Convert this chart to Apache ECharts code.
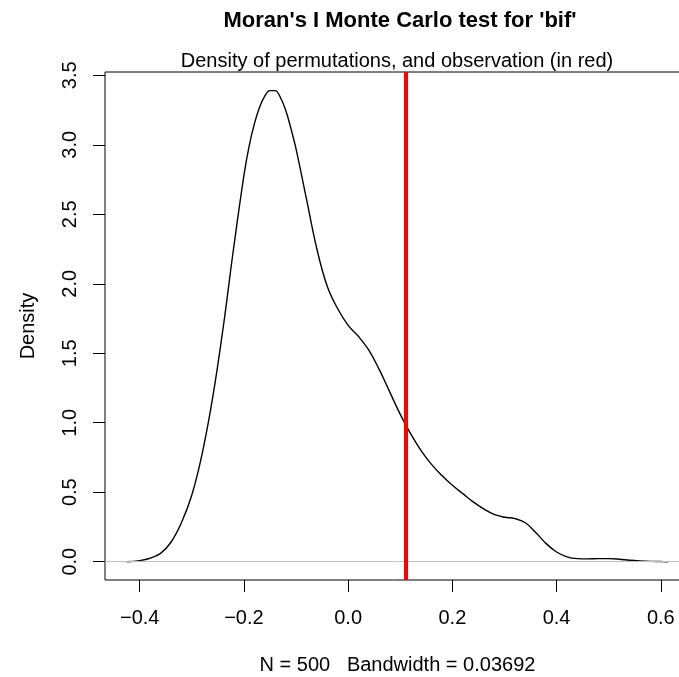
<!DOCTYPE html>
<html>
<head>
<meta charset="utf-8">
<script src="https://cdn.jsdelivr.net/npm/echarts@6/dist/echarts.min.js"></script>
<style>
html,body{margin:0;padding:0;background:#fff;overflow:hidden;}
#chart{width:679px;height:677px;}
</style>
</head>
<body>
<div id="chart"></div>
<script>
// Density of Monte Carlo permutations (x = Moran's I, y = density)
const densityX = [-0.425,-0.40,-0.38,-0.36,-0.34,-0.32,-0.30,-0.28,-0.26,-0.24,-0.22,-0.20,-0.19,-0.18,-0.17,-0.16,-0.15,-0.14,-0.13,-0.12,-0.11,-0.10,-0.08,-0.06,-0.04,-0.02,0.00,0.02,0.04,0.06,0.08,0.10,0.12,0.14,0.16,0.18,0.20,0.22,0.24,0.26,0.28,0.30,0.32,0.34,0.36,0.38,0.40,0.42,0.44,0.46,0.48,0.50,0.52,0.54,0.56,0.58,0.60,0.614];
const densityY = [0.0,0.008,0.025,0.06,0.14,0.28,0.48,0.78,1.18,1.68,2.25,2.78,2.99,3.15,3.27,3.35,3.39,3.39,3.34,3.25,3.12,2.97,2.61,2.25,1.98,1.82,1.70,1.62,1.52,1.38,1.22,1.06,0.92,0.80,0.70,0.62,0.55,0.49,0.43,0.38,0.34,0.32,0.31,0.28,0.21,0.13,0.07,0.035,0.022,0.02,0.022,0.022,0.018,0.01,0.005,0.002,0.001,0.0];
const observed = 0.113;
const xTicks = [-0.4,-0.2,0.0,0.2,0.4,0.6];
const yTicks = [0.0,0.5,1.0,1.5,2.0,2.5,3.0,3.5];
const titleText = "Moran's I Monte Carlo test for 'bif'";
const subtitleText = "Density of permutations, and observation (in red)";
const xLabelText = "N = 500   Bandwidth = 0.03692";
const yLabelText = "Density";

const FONT = "'Liberation Sans', Arial, Helvetica, sans-serif";
const fmt = v => (v < 0 ? '\u2212' : '') + Math.abs(v).toFixed(1);

const chart = echarts.init(document.getElementById('chart'), null, {renderer:'canvas'});
chart.setOption({
  animation: false,
  backgroundColor: '#ffffff',
  grid: {left: 105, width: 585, top: 72, height: 508, show: true, borderColor: '#000', borderWidth: 1,
         backgroundColor: 'transparent', containLabel: false, outerBoundsMode: 'none'},
  graphic: [
    {type:'text', x: 400, y: 21, style:{text: titleText, fill:'#000', font: 'bold 22px ' + FONT, textAlign:'center', textVerticalAlign:'middle'}},
    {type:'text', x: 397, y: 61, style:{text: subtitleText, fill:'#000', font: '20px ' + FONT, textAlign:'center', textVerticalAlign:'middle'}}
  ],
  xAxis: {
    type: 'value', min: -0.4666, max: 0.656,
    axisLine: {show: false, onZero: false},
    splitLine: {show: false},
    axisTick: {show: true, inside: false, length: 12, lineStyle: {color:'#000', width:1}, customValues: xTicks},
    axisLabel: {customValues: xTicks, formatter: fmt, color:'#000', fontSize: 20, fontFamily: FONT, margin: 28},
    name: xLabelText, nameLocation: 'middle', nameGap: 75,
    nameTextStyle: {color:'#000', fontSize: 20, fontFamily: FONT}
  },
  yAxis: {
    type: 'value', min: -0.1317, max: 3.5237,
    axisLine: {show: false, onZero: false},
    splitLine: {show: false},
    axisTick: {show: true, inside: false, length: 12, lineStyle: {color:'#000', width:1}, customValues: yTicks},
    axisLabel: {customValues: yTicks, formatter: fmt, color:'#000', fontSize: 20, fontFamily: FONT, rotate: 90, margin: 25},
    name: yLabelText, nameLocation: 'middle', nameGap: 67, nameRotate: 90,
    nameTextStyle: {color:'#000', fontSize: 20, fontFamily: FONT}
  },
  series: [{
    type: 'line',
    data: densityX.map((x, i) => [x, densityY[i]]),
    smooth: 0.4,
    showSymbol: false,
    clip: true,
    lineStyle: {color:'#000', width: 1.4},
    markLine: {
      silent: true, symbol: 'none', animation: false,
      label: {show: false},
      data: [
        {yAxis: 0, lineStyle: {color:'#bebebe', width: 1, type:'solid'}},
        {xAxis: observed, lineStyle: {color:'#ff0000', width: 4, type:'solid'}}
      ]
    },
    z: 3
  }]
});
</script>
</body>
</html>
